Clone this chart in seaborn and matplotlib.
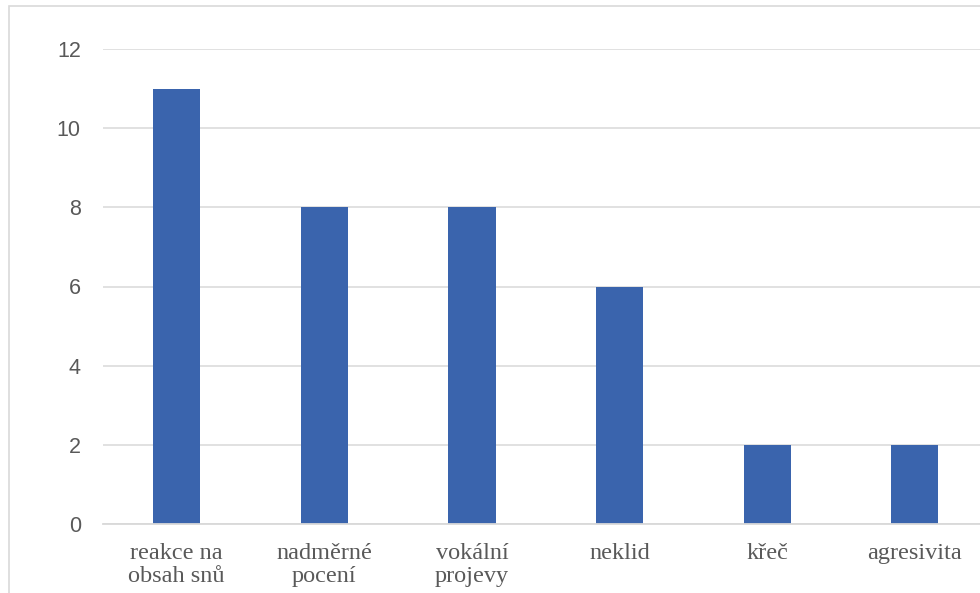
import matplotlib
matplotlib.use("Agg")
import matplotlib.pyplot as plt
import seaborn as sns
import pandas as pd
from matplotlib.patches import Rectangle

# data
categories = ["reakce na\nobsah snů", "nadměrné\npocení", "vokální\nprojevy",
              "neklid", "křeč", "agresivita"]
counts = [11, 8, 8, 6, 2, 2]
y_ticks = [0, 2, 4, 6, 8, 10, 12]

BAR_COLOR = "#3A64AD"
GRID_COLOR = "#D9D9D9"
TEXT_COLOR = "#595959"

sns.set_style("white")

df = pd.DataFrame({"category": categories, "count": counts})

fig = plt.figure(figsize=(9.8, 5.93), dpi=100)
# outer chart frame (runs off the right and bottom edges like the reference)
fig.patches.append(Rectangle((9 / 980, -0.1), 1.2, 1.1 - 6 / 593,
                             transform=fig.transFigure, fill=False,
                             edgecolor=GRID_COLOR, linewidth=1.2))

ax = fig.add_axes([103 / 980, (593 - 524) / 593, 885.6 / 980, 475 / 593])
sns.barplot(data=df, x="category", y="count", color=BAR_COLOR, width=0.32,
            saturation=1, linewidth=0, ax=ax)

ax.set_ylim(0, 12)
ax.set_xlim(-0.5, len(categories) - 0.5)
ax.set_yticks(y_ticks)
ax.set_xlabel("")
ax.set_ylabel("")
ax.grid(axis="y", color=GRID_COLOR, linewidth=1.1)
ax.set_axisbelow(True)
for side in ["top", "right", "left"]:
    ax.spines[side].set_visible(False)
ax.spines["bottom"].set_color(GRID_COLOR)
ax.spines["bottom"].set_linewidth(1.3)

ax.tick_params(axis="y", length=0, pad=16, labelcolor=TEXT_COLOR)
ax.tick_params(axis="x", length=0, pad=14, labelcolor=TEXT_COLOR)
for lab in ax.get_yticklabels():
    lab.set_fontfamily("Liberation Sans")
    lab.set_fontsize(15.5)
for lab in ax.get_xticklabels():
    lab.set_fontfamily("Liberation Serif")
    lab.set_fontsize(17.5)
    lab.set_linespacing(1.08)
    lab.set_verticalalignment("top")

fig.savefig("out.png", dpi=100)
